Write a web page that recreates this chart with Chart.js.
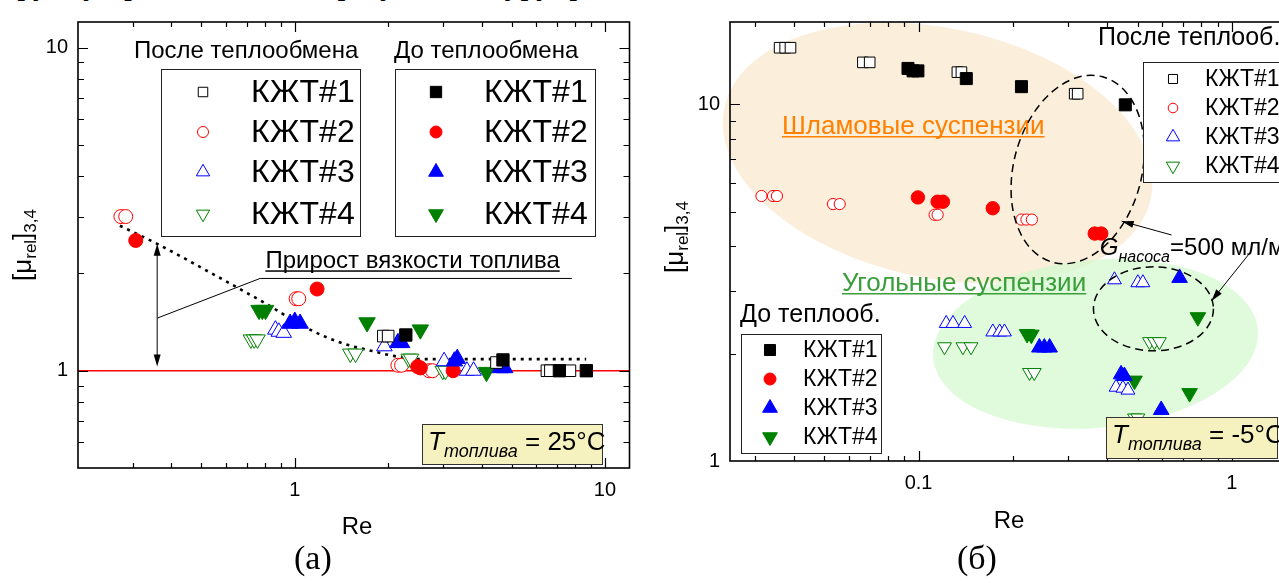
<!DOCTYPE html>
<html>
<head>
<meta charset="utf-8">
<script src="https://cdn.jsdelivr.net/npm/chart.js"></script>
<style>
html, body { margin: 0; padding: 0; background: #fff; overflow: hidden; width: 1279px; height: 583px; }
#wrapA { position: absolute; left: 0; top: 0; width: 640px; height: 583px; }
#wrapB { position: absolute; left: 640px; top: 0; width: 660px; height: 583px; }
#topline { position: absolute; left: 4px; top: -33px; font: 32px "Liberation Serif", "Times New Roman", serif; line-height: 32px; white-space: nowrap; }
.cap { position: absolute; top: 538px; font: 34px "Liberation Serif", "Times New Roman", serif; line-height: 40px; }
</style>
</head>
<body>
<div id="topline">группу представленных результатов урупрожде</div>
<div id="wrapA"><canvas id="chartA" width="640" height="583"></canvas></div>
<div id="wrapB"><canvas id="chartB" width="660" height="583"></canvas></div>
<div class="cap" style="left:294px">(а)</div>
<div class="cap" style="left:957px">(б)</div>
<script>
const FONT = 'Arial, "Liberation Sans", sans-serif';
const SERIES_NAMES = ["КЖТ#1", "КЖТ#2", "КЖТ#3", "КЖТ#4"];
const COLORS = ["#000000", "#ff0000", "#0000ff", "#008000"];
const STYLES = ["rect", "circle", "triangle", "triangle"];
const ROTS = [0, 0, 0, 180];

// panel (а): T = 25 °C, [Re, mu]
const aAfter1 = [[1.93, 1.28], [2.0, 1.28], [4.47, 1.06], [6.5, 1.0], [6.67, 1.0], [7.71, 1.0]];
const aAfter2 = [[0.275, 3.0], [0.285, 3.0], [1.01, 1.67], [1.03, 1.67], [2.15, 1.04], [2.21, 1.04], [2.71, 1.0], [2.78, 1.0]];
const aAfter3 = [[0.866, 1.34], [0.888, 1.32], [0.921, 1.31], [1.945, 1.19], [3.03, 1.07], [3.59, 1.0], [3.77, 1.0]];
const aAfter4 = [[0.722, 1.25], [0.74, 1.25], [0.758, 1.25], [1.51, 1.13], [1.57, 1.13], [2.33, 1.09], [2.37, 1.09], [3.0, 1.0], [3.06, 1.0]];
const aBefore1 = [[2.28, 1.29], [4.69, 1.08], [7.13, 1.0], [8.71, 1.0]];
const aBefore2 = [[0.307, 2.53], [1.18, 1.79], [2.49, 1.03], [2.54, 1.02], [3.24, 1.0]];
const aBefore3 = [[0.966, 1.4], [1.0, 1.42], [1.04, 1.4], [2.15, 1.22], [2.21, 1.22], [3.27, 1.07], [3.34, 1.09], [4.6, 1.02], [4.75, 1.02]];
const aBefore4 = [[0.767, 1.54], [0.786, 1.54], [0.805, 1.54], [1.71, 1.41], [2.54, 1.34], [4.15, 0.99]];
const aTrendRe = [0.273, 0.36, 0.54, 0.8, 1.12, 1.41, 1.78, 2.0, 2.5, 8.7];
const aTrendMu = [2.81, 2.47, 2.0, 1.62, 1.34, 1.22, 1.15, 1.12, 1.086, 1.086];
const aUnityRe = [0.2, 12];
const aUnityMu = [1, 1];
const aXTicks = [1, 10];
const aYTicks = [1, 10];

// panel (б): T = -5 °C, [Re, mu]
const bAfter1 = [[0.036, 14.4], [0.0375, 14.4], [0.039, 14.4], [0.0664, 13.1], [0.0698, 13.1], [0.133, 12.3], [0.137, 12.3], [0.315, 10.7], [0.322, 10.7]];
const bAfter2 = [[0.0315, 5.53], [0.0343, 5.53], [0.0353, 5.53], [0.0533, 5.25], [0.056, 5.25], [0.1125, 4.9], [0.115, 4.9], [0.213, 4.75], [0.221, 4.75], [0.23, 4.75]];
const bAfter3 = [[0.1225, 2.43], [0.1288, 2.43], [0.1403, 2.43], [0.1725, 2.3], [0.1815, 2.3], [0.188, 2.3], [0.422, 3.22], [0.501, 3.16], [0.52, 3.16], [0.427, 1.61], [0.449, 1.6], [0.466, 1.58]];
const bAfter4 = [[0.121, 2.09], [0.1385, 2.09], [0.147, 2.09], [0.226, 1.77], [0.234, 1.77], [0.546, 2.16], [0.566, 2.16], [0.587, 2.16], [0.489, 1.32], [0.501, 1.32]];
const bBefore1 = [[0.0925, 12.6], [0.096, 12.4], [0.0995, 12.4], [0.142, 11.8], [0.213, 11.2], [0.457, 9.96]];
const bBefore2 = [[0.0995, 5.48], [0.115, 5.33], [0.1196, 5.33], [0.1725, 5.11], [0.365, 4.34], [0.383, 4.34]];
const bBefore3 = [[0.243, 2.08], [0.252, 2.08], [0.262, 2.08], [0.681, 3.26], [0.443, 1.75], [0.454, 1.73], [0.595, 1.39]];
const bBefore4 = [[0.222, 2.27], [0.229, 2.26], [0.779, 2.53], [0.489, 1.68], [0.733, 1.55]];
const bXTicks = [0.1, 1];
const bYTicks = [1, 10];

function scatterSet(label, pairs, k, filled, radius) {
  return {
    type: "scatter",
    label: label,
    data: pairs.map((p) => ({ x: p[0], y: p[1] })),
    pointStyle: STYLES[k],
    pointRotation: ROTS[k],
    pointRadius: radius,
    pointHoverRadius: radius,
    pointBorderColor: COLORS[k],
    pointBackgroundColor: filled ? COLORS[k] : "#ffffff",
    pointBorderWidth: 1,
    showLine: false,
  };
}

function lineSet(xs, ys, color, width, dash, smooth) {
  return {
    type: "line",
    data: xs.map((x, i) => ({ x: x, y: ys[i] })),
    borderColor: color,
    borderWidth: width,
    borderDash: dash,
    pointRadius: 0,
    fill: false,
    cubicInterpolationMode: smooth ? "monotone" : "default",
  };
}

function logScale(min, max, tickValues, fit) {
  return {
    type: "logarithmic",
    min: min,
    max: max,
    bounds: "data",
    afterBuildTicks: (s) => { s.ticks = tickValues.map((v) => ({ value: v })); },
    afterFit: fit,
    ticks: {
      autoSkip: false,
      maxRotation: 0,
      padding: 10,
      color: "#000",
      font: { family: FONT, size: 20 },
      callback: (v) => String(v),
    },
    grid: { display: false, drawTicks: false },
    border: { display: false },
  };
}

function minorValues(min, max) {
  const out = [];
  for (let e = Math.floor(Math.log10(min)); e <= Math.ceil(Math.log10(max)); e++) {
    for (let m = 1; m <= 9; m++) {
      const v = m * Math.pow(10, e);
      if (v > min * 1.0001 && v < max * 0.9999) out.push({ v: v, major: m === 1 });
    }
  }
  return out;
}

function px(chart, x, y) {
  return [chart.scales.x.getPixelForValue(x), chart.scales.y.getPixelForValue(y)];
}

function drawFrame(chart) {
  const { ctx, chartArea: a, scales: { x, y } } = chart;
  ctx.save();
  ctx.strokeStyle = "#000";
  ctx.lineWidth = 1.2;
  ctx.beginPath();
  minorValues(x.min, x.max).forEach((t) => {
    const p = Math.round(x.getPixelForValue(t.v)) + 0.5;
    const L = t.major ? 10 : 5;
    ctx.moveTo(p, a.bottom); ctx.lineTo(p, a.bottom - L);
    ctx.moveTo(p, a.top); ctx.lineTo(p, a.top + L);
  });
  minorValues(y.min, y.max).forEach((t) => {
    const p = Math.round(y.getPixelForValue(t.v)) + 0.5;
    const L = t.major ? 10 : 6;
    ctx.moveTo(a.left, p); ctx.lineTo(a.left + L, p);
    ctx.moveTo(a.right, p); ctx.lineTo(a.right - L, p);
  });
  ctx.stroke();
  ctx.lineWidth = 1.6;
  ctx.strokeRect(a.left, a.top, a.right - a.left, a.bottom - a.top);
  ctx.restore();
}

function richText(ctx, parts, x, y, align) {
  let w = 0;
  parts.forEach((p) => { ctx.font = p[1]; w += ctx.measureText(p[0]).width; });
  let cx = align === "center" ? x - w / 2 : x;
  ctx.textAlign = "left";
  ctx.textBaseline = "alphabetic";
  parts.forEach((p) => {
    ctx.font = p[1];
    ctx.fillText(p[0], cx, y + (p[2] || 0));
    cx += ctx.measureText(p[0]).width;
  });
  return w;
}

function yTitle(ctx, bx, cy) {
  ctx.save();
  ctx.fillStyle = "#000";
  ctx.translate(bx, cy);
  ctx.rotate(-Math.PI / 2);
  richText(ctx, [["[μ", "26px " + FONT], ["rel", "17px " + FONT, 5], ["]", "26px " + FONT], ["3,4", "17px " + FONT, 5]], 0, 0, "center");
  ctx.restore();
}

function drawMarker(ctx, k, x, y, r, filled) {
  ctx.save();
  ctx.translate(x, y);
  ctx.rotate((ROTS[k] * Math.PI) / 180);
  ctx.beginPath();
  if (STYLES[k] === "rect") {
    const s = r * Math.SQRT1_2;
    ctx.rect(-s, -s, 2 * s, 2 * s);
  } else if (STYLES[k] === "circle") {
    ctx.arc(0, 0, r, 0, 2 * Math.PI);
  } else {
    for (let i = 0; i < 3; i++) {
      const ang = (i * 2 * Math.PI) / 3;
      if (i === 0) ctx.moveTo(Math.sin(ang) * r, -Math.cos(ang) * r);
      else ctx.lineTo(Math.sin(ang) * r, -Math.cos(ang) * r);
    }
    ctx.closePath();
  }
  ctx.fillStyle = filled ? COLORS[k] : "#ffffff";
  ctx.fill();
  ctx.strokeStyle = COLORS[k];
  ctx.lineWidth = 1;
  ctx.stroke();
  ctx.restore();
}

function drawLegend(ctx, lg) {
  ctx.save();
  ctx.fillStyle = "#000";
  ctx.font = lg.titleFont;
  ctx.textAlign = "left";
  ctx.textBaseline = "middle";
  ctx.fillText(lg.title, lg.titleX, lg.titleY);
  ctx.fillStyle = "#ffffff";
  ctx.fillRect(lg.box[0], lg.box[1], lg.box[2] - lg.box[0], lg.box[3] - lg.box[1]);
  ctx.strokeStyle = "#222";
  ctx.lineWidth = 1;
  ctx.strokeRect(lg.box[0] + 0.5, lg.box[1] + 0.5, lg.box[2] - lg.box[0], lg.box[3] - lg.box[1]);
  SERIES_NAMES.forEach((name, k) => {
    const ry = lg.rows[k];
    drawMarker(ctx, k, lg.markerX, ry, lg.radii[k], lg.filled);
    ctx.fillStyle = "#000";
    ctx.font = lg.font;
    ctx.textBaseline = "middle";
    ctx.fillText(name, lg.textX, ry + 1);
  });
  ctx.restore();
}

function tempBox(ctx, box, tx, base, value, big, small) {
  ctx.save();
  ctx.fillStyle = "#f6f2bf";
  ctx.fillRect(box[0], box[1], box[2] - box[0], box[3] - box[1]);
  ctx.strokeStyle = "#333";
  ctx.lineWidth = 1;
  ctx.strokeRect(box[0] + 0.5, box[1] + 0.5, box[2] - box[0], box[3] - box[1]);
  ctx.fillStyle = "#000";
  richText(ctx, [["T", "italic " + big + "px " + FONT], ["топлива", "italic " + small + "px " + FONT, 7], [" = " + value, big + "px " + FONT]], tx, base, "left");
  ctx.restore();
}

function arrowHead(ctx, x0, y0, x1, y1, len, half) {
  const ang = Math.atan2(y1 - y0, x1 - x0);
  ctx.beginPath();
  ctx.moveTo(x1, y1);
  ctx.lineTo(x1 - len * Math.cos(ang) + half * Math.sin(ang), y1 - len * Math.sin(ang) - half * Math.cos(ang));
  ctx.lineTo(x1 - len * Math.cos(ang) - half * Math.sin(ang), y1 - len * Math.sin(ang) + half * Math.cos(ang));
  ctx.closePath();
  ctx.fill();
}

function underlined(ctx, text, font, color, x, base, gap) {
  ctx.save();
  ctx.font = font;
  ctx.fillStyle = color;
  ctx.textAlign = "left";
  ctx.textBaseline = "alphabetic";
  ctx.fillText(text, x, base);
  const w = ctx.measureText(text).width;
  ctx.fillRect(x, base + gap, w, 1.5);
  ctx.restore();
}

function ellipseAt(chart, c, rx, ry, rotDeg, fill, dash) {
  const ctx = chart.ctx;
  const p = px(chart, c[0], c[1]);
  ctx.save();
  ctx.beginPath();
  ctx.ellipse(p[0], p[1], rx, ry, (rotDeg * Math.PI) / 180, 0, 2 * Math.PI);
  if (fill) { ctx.fillStyle = fill; ctx.fill(); }
  if (dash) { ctx.setLineDash(dash); ctx.strokeStyle = "#000"; ctx.lineWidth = 1.5; ctx.stroke(); }
  ctx.restore();
}

// ---------- panel (а) ----------
const decorA = {
  id: "decorA",
  afterDraw(chart) {
    const ctx = chart.ctx;
    drawFrame(chart);
    yTitle(ctx, 31, 245);
    ctx.save();
    ctx.fillStyle = "#000";
    ctx.font = "24px " + FONT;
    ctx.textAlign = "center";
    ctx.textBaseline = "middle";
    ctx.fillText("Re", 357, 527);
    ctx.restore();

    // viscosity gain annotation
    const top = px(chart, 0.36, 2.47), bot = px(chart, 0.36, 1.03);
    ctx.save();
    ctx.strokeStyle = "#000";
    ctx.fillStyle = "#000";
    ctx.lineWidth = 1;
    ctx.beginPath();
    ctx.moveTo(top[0], top[1] + 8); ctx.lineTo(bot[0], bot[1] - 8);
    ctx.stroke();
    arrowHead(ctx, bot[0], bot[1], top[0], top[1], 12, 3.5);
    arrowHead(ctx, top[0], top[1], bot[0], bot[1], 12, 3.5);
    const l0 = px(chart, 0.361, 1.456), l1 = px(chart, 0.773, 1.93), l2 = px(chart, 7.82, 1.93);
    ctx.beginPath();
    ctx.moveTo(l0[0], l0[1]); ctx.lineTo(l1[0], l1[1]); ctx.lineTo(l2[0], l2[1]);
    ctx.stroke();
    ctx.restore();
    const tp = px(chart, 0.804, 2.075);
    underlined(ctx, "Прирост вязкости топлива", "24px " + FONT, "#000", tp[0], tp[1], 2);

    drawLegend(ctx, {
      title: "После теплообмена", titleFont: "24px " + FONT, titleX: 134, titleY: 51,
      box: [161, 69, 360, 236], rows: [92, 132, 172, 214], markerX: 203, textX: 251,
      font: "32px " + FONT, radii: [6.7, 5.5, 7.7, 7.7], filled: false,
    });
    drawLegend(ctx, {
      title: "До теплообмена", titleFont: "24px " + FONT, titleX: 394, titleY: 51,
      box: [395, 69, 595, 236], rows: [92, 132, 172, 214], markerX: 436, textX: 484,
      font: "32px " + FONT, radii: [8, 6, 8.5, 8.5], filled: true,
    });
    tempBox(ctx, [422, 424, 602, 464], 428, 450, "25°C", 26, 18);
  },
};

const chartA = new Chart(document.getElementById("chartA"), {
  type: "scatter",
  data: {
    datasets: [
      scatterSet("До КЖТ#1", aBefore1, 0, true, 8.7),
      scatterSet("После КЖТ#1", aAfter1, 0, false, 8.2),
      scatterSet("До КЖТ#3", aBefore3, 2, true, 9.5),
      scatterSet("До КЖТ#4", aBefore4, 3, true, 9.5),
      scatterSet("До КЖТ#2", aBefore2, 1, true, 7),
      scatterSet("После КЖТ#3", aAfter3, 2, false, 9),
      scatterSet("После КЖТ#4", aAfter4, 3, false, 9),
      scatterSet("После КЖТ#2", aAfter2, 1, false, 7),
      lineSet(aTrendRe, aTrendMu, "#000", 2.6, [3, 5], true),
      lineSet(aUnityRe, aUnityMu, "#ff0000", 1.5, [], false),
    ],
  },
  options: {
    responsive: false,
    animation: false,
    events: [],
    layout: { padding: { left: 0, top: 22, right: 3, bottom: 75 } },
    plugins: { legend: { display: false }, tooltip: { enabled: false } },
    scales: {
      x: logScale(0.2, 12, aXTicks, (s) => { s.height = 40; }),
      y: logScale(0.5, 12, aYTicks, (s) => { s.width = 78; }),
    },
  },
  plugins: [decorA],
});

// ---------- panel (б) ----------
const decorB = {
  id: "decorB",
  beforeDatasetsDraw(chart) {
    const ctx = chart.ctx;
    ellipseAt(chart, [0.115, 7.3], 218, 125, 12, "rgba(250,234,210,0.8)", null);
    ellipseAt(chart, [0.367, 2.13], 163, 84, -5, "rgba(214,248,208,0.75)", null);
    underlined(ctx, "Шламовые суспензии", "26px " + FONT, "#ff8000", 142, 134, 2);
    underlined(ctx, "Угольные суспензии", "26px " + FONT, "#3a9e3a", 202, 291, 2);
  },
  afterDraw(chart) {
    const ctx = chart.ctx;
    drawFrame(chart);
    ellipseAt(chart, [0.322, 6.56], 64, 96, 15, null, [8, 5]);
    ellipseAt(chart, [0.562, 2.67], 60, 42, 0, null, [8, 5]);
    ctx.save();
    ctx.strokeStyle = "#000";
    ctx.fillStyle = "#000";
    ctx.lineWidth = 1;
    [[[0.642, 4.3], [0.445, 4.7]], [[1.139, 3.82], [0.861, 2.81]]].forEach((ar) => {
      const a0 = px(chart, ar[0][0], ar[0][1]), a1 = px(chart, ar[1][0], ar[1][1]);
      ctx.beginPath();
      ctx.moveTo(a0[0], a0[1]); ctx.lineTo(a1[0], a1[1]);
      ctx.stroke();
      arrowHead(ctx, a0[0], a0[1], a1[0], a1[1], 12, 3.5);
    });
    const g = px(chart, 0.379, 3.77);
    richText(ctx, [["G", "italic 24px " + FONT], ["насоса", "italic 16px " + FONT, 7], ["=500 мл/мин", "24px " + FONT]], g[0], g[1], "left");
    ctx.restore();

    yTitle(ctx, 43, 237);
    ctx.save();
    ctx.fillStyle = "#000";
    ctx.font = "24px " + FONT;
    ctx.textAlign = "center";
    ctx.textBaseline = "middle";
    ctx.fillText("Re", 369, 521);
    ctx.restore();

    drawLegend(ctx, {
      title: "После теплооб.", titleFont: "25px " + FONT, titleX: 458, titleY: 38,
      box: [503, 62, 700, 182], rows: [79, 108, 137, 166], markerX: 533, textX: 565,
      font: "23px " + FONT, radii: [6.4, 4.8, 7.7, 7.7], filled: false,
    });
    drawLegend(ctx, {
      title: "До теплооб.", titleFont: "25px " + FONT, titleX: 100, titleY: 315,
      box: [101, 334, 241, 453], rows: [350, 379, 408, 437], markerX: 130, textX: 163,
      font: "23px " + FONT, radii: [7.8, 6, 8.5, 8.5], filled: true,
    });
    tempBox(ctx, [466, 417, 637, 458], 472, 443, "-5°C", 26, 18);
  },
};

const chartB = new Chart(document.getElementById("chartB"), {
  type: "scatter",
  data: {
    datasets: [
      scatterSet("До КЖТ#1", bBefore1, 0, true, 8.5),
      scatterSet("После КЖТ#1", bAfter1, 0, false, 7.5),
      scatterSet("До КЖТ#3", bBefore3, 2, true, 9),
      scatterSet("До КЖТ#4", bBefore4, 3, true, 9),
      scatterSet("До КЖТ#2", bBefore2, 1, true, 6.7),
      scatterSet("После КЖТ#3", bAfter3, 2, false, 8),
      scatterSet("После КЖТ#4", bAfter4, 3, false, 8),
      scatterSet("После КЖТ#2", bAfter2, 1, false, 5.6),
    ],
  },
  options: {
    responsive: false,
    animation: false,
    events: [],
    layout: { padding: { left: 0, top: 10, right: 13, bottom: 82 } },
    plugins: { legend: { display: false }, tooltip: { enabled: false } },
    scales: {
      x: logScale(0.025, 1.5, bXTicks, (s) => { s.height = 40; }),
      y: logScale(1, 17, bYTicks, (s) => { s.width = 90; }),
    },
  },
  plugins: [decorB],
});
</script>
</body>
</html>
